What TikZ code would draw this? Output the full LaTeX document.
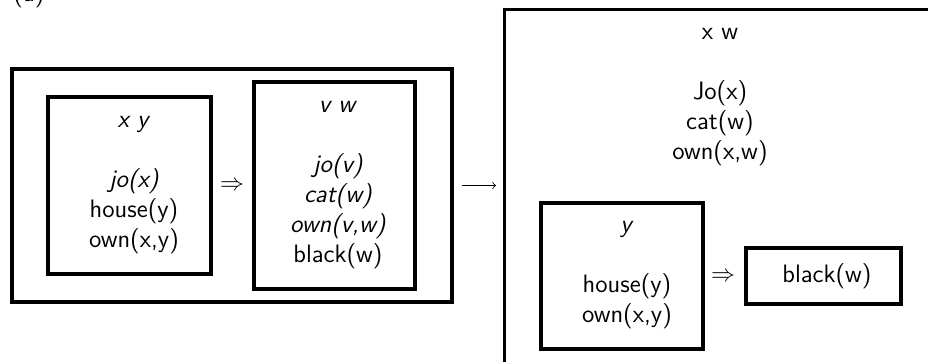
\documentclass[tikz,border=0pt]{standalone}
\usepackage{amsmath,amssymb}
\usepackage{tikz}
\usetikzlibrary{arrows,positioning,shapes}

\begin{document}
\begin{tikzpicture}[x = 0.5pt, y = -0.5pt, font = \sffamily\fontsize{12.6}{15}\selectfont,
  box/.style = {draw, line width = 1.6pt, inner sep = 0pt},
  txt/.style = {align = center, inner sep = 0pt}]
\useasboundingbox (0,0) rectangle (928,361);
\node[anchor = base west, inner sep = 0pt] (lbl) at (13,1) {(a)};
% left: conditional DRS
\node[box, minimum width = 220pt, minimum height = 116.5pt] (cond) at (232,185.5) {};
\node[box, minimum width = 81.5pt, minimum height = 88.5pt] (ante) at (129.5,185.5) {};
\node[box, minimum width = 80.5pt, minimum height = 103.5pt] (cons) at (334.5,185.5) {};
\node[txt] (antetxt) at (134,185) {\textsl{x y}\\[15pt]\textsl{jo(x)}\\house(y)\\own(x,y)};
\node[txt] (constxt) at (338,185) {\textsl{v w}\\[15pt]\textsl{jo(v)}\\\textsl{cat(w)}\\\textsl{own(v,w)}\\black(w)};
\node (imp1) at (232,186) {$\Rightarrow$};
% right: resulting DRS
\node[box, minimum width = 240pt, minimum height = 200pt, anchor = north west] (drs) at (503,8) {};
\node[txt] (drstxt) at (720,97) {x w\\[15pt]Jo(x)\\cat(w)\\own(x,w)};
\node[box, minimum width = 81pt, minimum height = 73pt] (sub) at (622,276) {};
\node[txt] (subtxt) at (627,275) {\textsl{y}\\[15pt]house(y)\\own(x,y)};
\node (imp2) at (723,277) {$\Rightarrow$};
\node[box, minimum width = 77.5pt, minimum height = 28pt] (blk) at (823.5,276) {};
\node[txt] (blktxt) at (827,276) {black(w)};
\draw[->, >=to, line width = 0.4pt, shorten < = 4pt, shorten > = 3.5pt] (cond.east) -- (cond.east -| drs.west);
\end{tikzpicture}
\end{document}
